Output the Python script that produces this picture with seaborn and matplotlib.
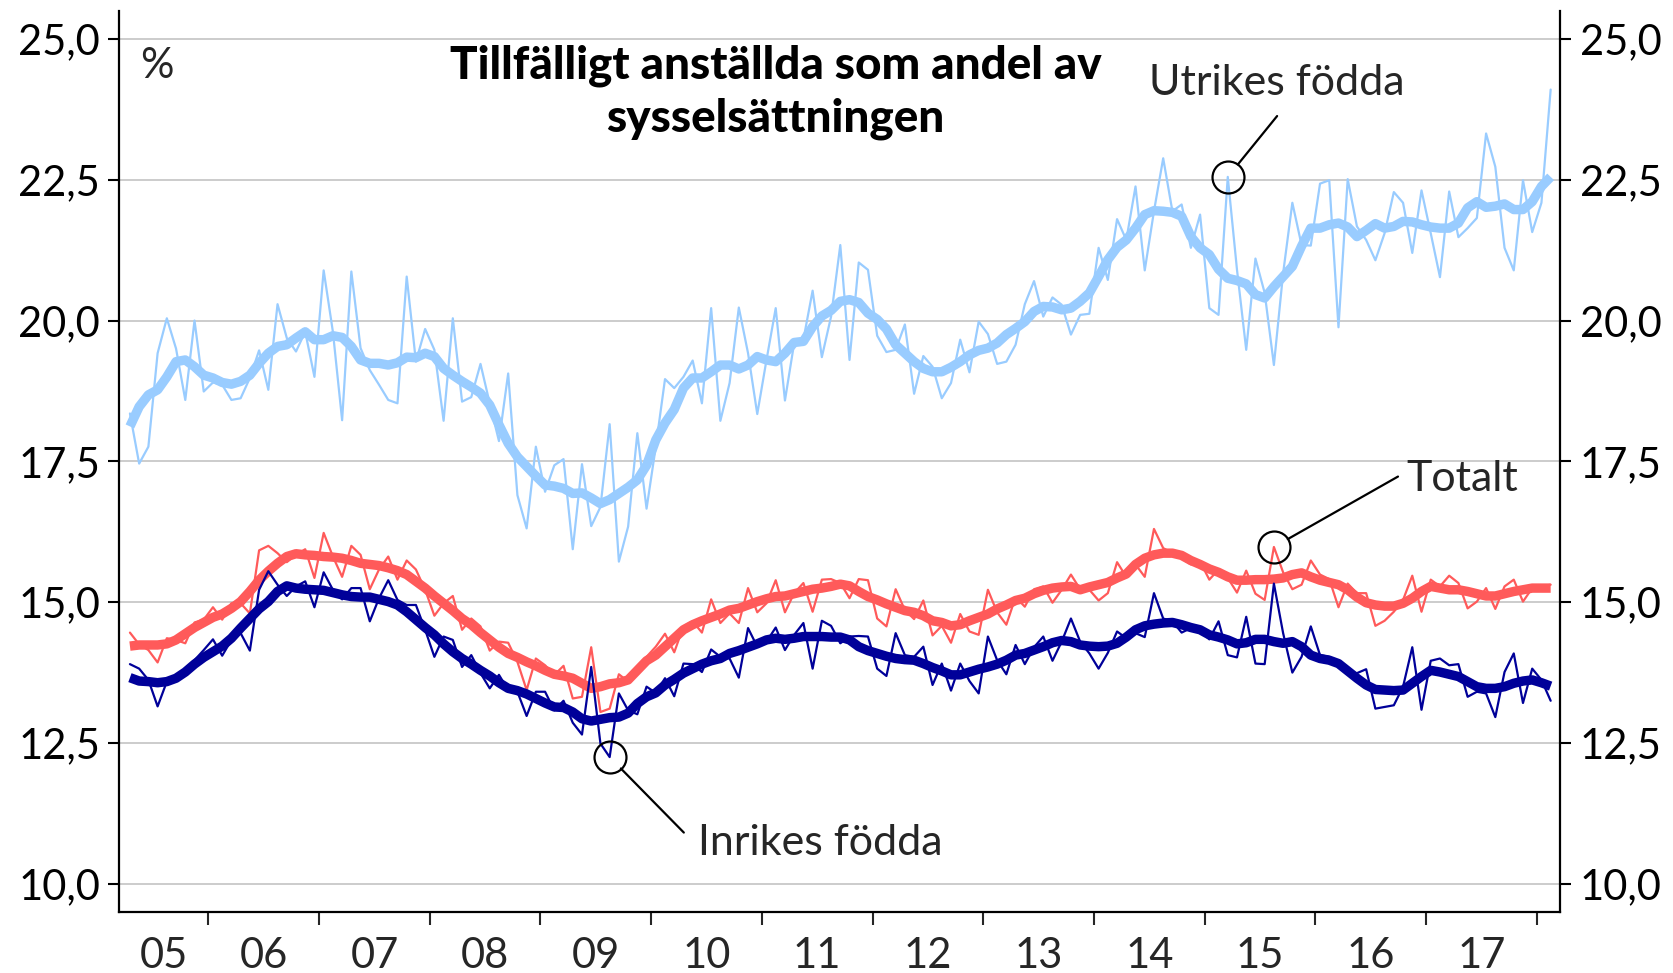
import numpy as np
import pandas as pd
import matplotlib
matplotlib.use("Agg")
import matplotlib.pyplot as plt
import seaborn as sns
from matplotlib.ticker import FuncFormatter, FixedLocator

# monthly observations, April 2005 - February 2018
months = pd.date_range("2005-04-01", periods=155, freq="MS")

utrikes = [
    18.35, 17.46, 17.76, 19.42, 20.04, 19.5, 18.59, 20.0, 18.74, 18.90,
    18.86, 18.59, 18.62, 18.98, 19.47, 18.77, 20.29, 19.69, 19.45, 19.8,
    19.0, 20.89, 19.8, 18.23, 20.87, 19.51, 19.12, 18.86, 18.59, 18.53,
    20.78, 19.27, 19.85, 19.48, 18.22, 20.04, 18.56, 18.64, 19.23, 18.53,
    17.86, 19.06, 16.90, 16.31, 17.76, 16.96, 17.43, 17.54, 15.94, 17.45,
    16.35, 16.69, 18.16, 15.72, 16.34, 18.0, 16.66, 17.76, 18.96, 18.8,
    19.0, 19.29, 18.53, 20.22, 18.22, 18.89, 20.23, 19.42, 18.34, 19.30,
    20.22, 18.58, 19.60, 19.66, 20.53, 19.35, 20.07, 21.34, 19.30, 21.03,
    20.90, 19.73, 19.44, 19.48, 19.93, 18.70, 19.37, 19.18, 18.62, 18.89,
    19.66, 19.08, 19.98, 19.76, 19.23, 19.27, 19.57, 20.29, 20.70, 20.07,
    20.41, 20.28, 19.75, 20.10, 20.12, 21.29, 20.72, 21.80, 21.43, 22.38,
    20.89, 21.94, 22.88, 21.94, 22.06, 21.29, 21.88, 20.22, 20.10, 22.55,
    20.90, 19.48, 21.10, 20.49, 19.21, 20.84, 22.09, 21.34, 21.33, 22.43,
    22.49, 19.88, 22.51, 21.67, 21.43, 21.07, 21.55, 22.28, 22.09, 21.20,
    22.31, 21.55, 20.77, 22.29, 21.48, 21.64, 21.82, 23.32, 22.73, 21.29,
    20.89, 22.49, 21.57, 22.09, 24.10,
]
utrikes_trend = [
    18.12, 18.47, 18.68, 18.77, 19.0, 19.27, 19.30, 19.18, 19.03, 18.98,
    18.90, 18.87, 18.92, 19.03, 19.24, 19.42, 19.54, 19.57, 19.69, 19.80,
    19.66, 19.66, 19.73, 19.70, 19.54, 19.30, 19.24, 19.24, 19.21, 19.25,
    19.35, 19.34, 19.42, 19.36, 19.15, 19.03, 18.92, 18.82, 18.71, 18.50,
    18.15, 17.82, 17.58, 17.41, 17.24, 17.08, 17.06, 17.02, 16.93, 16.94,
    16.85, 16.75, 16.82, 16.93, 17.04, 17.17, 17.43, 17.88, 18.18, 18.42,
    18.80, 18.98, 18.98, 19.09, 19.21, 19.21, 19.14, 19.21, 19.36, 19.30,
    19.27, 19.42, 19.61, 19.63, 19.89, 20.08, 20.18, 20.34, 20.37, 20.32,
    20.13, 20.02, 19.85, 19.57, 19.42, 19.27, 19.15, 19.09, 19.09, 19.17,
    19.27, 19.39, 19.47, 19.51, 19.60, 19.75, 19.86, 19.98, 20.16, 20.25,
    20.24, 20.19, 20.22, 20.34, 20.49, 20.78, 21.08, 21.30, 21.43, 21.64,
    21.88, 21.95, 21.94, 21.92, 21.85, 21.49, 21.29, 21.17, 20.91, 20.75,
    20.71, 20.65, 20.46, 20.40, 20.60, 20.78, 20.96, 21.32, 21.64, 21.64,
    21.70, 21.73, 21.66, 21.49, 21.60, 21.72, 21.64, 21.67, 21.76, 21.75,
    21.70, 21.66, 21.64, 21.64, 21.73, 22.00, 22.11, 22.01, 22.03, 22.07,
    21.97, 21.97, 22.11, 22.38, 22.55,
]
totalt = [
    14.46, 14.25, 14.15, 13.93, 14.36, 14.33, 14.27, 14.64, 14.69, 14.91,
    14.69, 14.98, 14.98, 14.80, 15.92, 16.0, 15.87, 15.71, 15.84, 15.94,
    15.43, 16.23, 15.81, 15.45, 16.0, 15.84, 15.23, 15.58, 15.81, 15.40,
    15.74, 15.58, 15.22, 14.76, 14.98, 15.11, 14.51, 14.71, 14.57, 14.14,
    14.30, 14.28, 13.94, 13.44, 14.0, 13.88, 13.71, 13.87, 13.29, 13.32,
    14.20, 13.05, 13.11, 13.72, 13.59, 13.85, 14.03, 14.21, 14.44, 14.11,
    14.57, 14.66, 14.46, 15.05, 14.63, 14.80, 14.63, 15.25, 14.82, 14.98,
    15.39, 14.82, 15.16, 15.34, 14.83, 15.40, 15.41, 15.34, 15.07, 15.41,
    15.39, 14.71, 14.57, 15.23, 14.86, 14.70, 15.03, 14.41, 14.58, 14.28,
    14.79, 14.48, 14.42, 15.22, 14.82, 14.60, 15.09, 14.92, 15.23, 15.28,
    14.99, 15.22, 15.49, 15.23, 15.22, 15.03, 15.16, 15.71, 15.45, 15.67,
    15.45, 16.30, 15.96, 15.87, 15.78, 15.67, 15.72, 15.40, 15.58, 15.43,
    15.17, 15.56, 15.15, 15.04, 15.98, 15.53, 15.23, 15.31, 15.74, 15.49,
    15.41, 14.91, 15.33, 15.16, 15.16, 14.58, 14.67, 14.83, 15.04, 15.47,
    14.83, 15.40, 15.28, 15.47, 15.34, 14.89, 15.01, 15.25, 14.88, 15.28,
    15.40, 15.01, 15.25, 15.28, 15.31,
]
totalt_trend = [
    14.22, 14.24, 14.24, 14.24, 14.26, 14.33, 14.44, 14.55, 14.64, 14.73,
    14.79, 14.89, 15.01, 15.19, 15.39, 15.55, 15.69, 15.81, 15.86, 15.84,
    15.83, 15.81, 15.80, 15.78, 15.74, 15.69, 15.67, 15.65, 15.61, 15.56,
    15.49, 15.37, 15.25, 15.11, 14.98, 14.85, 14.71, 14.60, 14.46, 14.33,
    14.20, 14.09, 14.02, 13.94, 13.87, 13.79, 13.72, 13.69, 13.65, 13.56,
    13.47, 13.50, 13.55, 13.57, 13.62, 13.79, 13.96, 14.06, 14.21, 14.36,
    14.51, 14.60, 14.67, 14.73, 14.79, 14.86, 14.89, 14.95, 15.01, 15.06,
    15.10, 15.11, 15.15, 15.19, 15.23, 15.25, 15.28, 15.32, 15.29, 15.19,
    15.10, 15.04, 14.97, 14.91, 14.85, 14.82, 14.76, 14.67, 14.64, 14.58,
    14.60, 14.67, 14.73, 14.79, 14.88, 14.95, 15.03, 15.07, 15.15, 15.21,
    15.25, 15.27, 15.28, 15.22, 15.27, 15.31, 15.35, 15.43, 15.50, 15.67,
    15.78, 15.84, 15.87, 15.87, 15.83, 15.74, 15.67, 15.59, 15.53, 15.45,
    15.39, 15.39, 15.40, 15.40, 15.41, 15.43, 15.49, 15.52, 15.45, 15.39,
    15.35, 15.31, 15.22, 15.09, 14.99, 14.95, 14.93, 14.93, 14.98, 15.07,
    15.19, 15.28, 15.25, 15.22, 15.22, 15.19, 15.15, 15.11, 15.11, 15.15,
    15.19, 15.22, 15.25, 15.25, 15.25,
]
inrikes = [
    13.90, 13.82, 13.62, 13.15, 13.59, 13.62, 13.76, 13.97, 14.15, 14.34,
    14.05, 14.33, 14.45, 14.14, 15.22, 15.55, 15.31, 15.11, 15.28, 15.37,
    14.91, 15.53, 15.22, 15.05, 15.25, 15.25, 14.66, 15.07, 15.39, 15.04,
    14.95, 14.95, 14.51, 14.03, 14.39, 14.33, 13.85, 14.06, 13.74, 13.47,
    13.71, 13.44, 13.41, 12.98, 13.41, 13.41, 13.08, 13.25, 12.86, 12.65,
    13.85, 12.49, 12.25, 13.38, 13.08, 13.01, 13.50, 13.39, 13.65, 13.33,
    13.91, 13.90, 13.76, 14.16, 14.03, 14.00, 13.66, 14.54, 14.21, 14.30,
    14.55, 14.15, 14.42, 14.63, 13.82, 14.67, 14.58, 14.27, 14.39, 14.40,
    14.39, 13.82, 13.69, 14.45, 14.06, 14.03, 14.21, 13.53, 13.91, 13.43,
    13.91, 13.60, 13.38, 14.39, 13.97, 13.72, 14.24, 13.90, 14.20, 14.39,
    13.96, 14.30, 14.71, 14.30, 14.09, 13.82, 14.10, 14.48, 14.36, 14.45,
    14.38, 15.16, 14.71, 14.66, 14.46, 14.54, 14.50, 14.34, 14.66, 14.06,
    14.02, 14.74, 13.91, 13.90, 15.33, 14.45, 13.75, 14.03, 14.57, 14.06,
    14.03, 13.91, 13.76, 13.74, 13.81, 13.11, 13.14, 13.17, 13.50, 14.20,
    13.09, 13.96, 14.00, 13.88, 13.90, 13.32, 13.41, 13.38, 12.96, 13.76,
    14.09, 13.21, 13.82, 13.62, 13.25,
]
inrikes_trend = [
    13.66, 13.60, 13.59, 13.57, 13.59, 13.65, 13.76, 13.90, 14.02, 14.12,
    14.22, 14.36, 14.54, 14.71, 14.88, 15.01, 15.19, 15.29, 15.25, 15.23,
    15.22, 15.21, 15.17, 15.13, 15.10, 15.09, 15.09, 15.05, 15.01, 14.95,
    14.83, 14.69, 14.55, 14.42, 14.26, 14.12, 14.00, 13.90, 13.79, 13.69,
    13.57, 13.47, 13.43, 13.37, 13.29, 13.21, 13.14, 13.13, 13.05, 12.93,
    12.89, 12.92, 12.95, 12.96, 13.03, 13.20, 13.32, 13.39, 13.53, 13.63,
    13.74, 13.82, 13.90, 13.96, 14.00, 14.09, 14.14, 14.20, 14.26, 14.33,
    14.36, 14.34, 14.36, 14.39, 14.39, 14.39, 14.38, 14.38, 14.33, 14.21,
    14.14, 14.09, 14.04, 14.00, 13.98, 13.97, 13.91, 13.84, 13.78, 13.71,
    13.71, 13.76, 13.81, 13.85, 13.90, 13.97, 14.06, 14.09, 14.15, 14.21,
    14.28, 14.32, 14.30, 14.24, 14.22, 14.21, 14.22, 14.27, 14.38, 14.51,
    14.58, 14.61, 14.63, 14.64, 14.60, 14.55, 14.51, 14.42, 14.38, 14.33,
    14.26, 14.28, 14.34, 14.34, 14.30, 14.27, 14.30, 14.21, 14.06, 14.00,
    13.97, 13.91, 13.78, 13.65, 13.53, 13.45, 13.44, 13.43, 13.44, 13.56,
    13.68, 13.79, 13.76, 13.72, 13.68, 13.59, 13.50, 13.47, 13.47, 13.50,
    13.56, 13.60, 13.62, 13.57, 13.51,
]

year_labels = ["05", "06", "07", "08", "09", "10", "11", "12", "13", "14", "15", "16", "17"]
y_ticks = [10.0, 12.5, 15.0, 17.5, 20.0, 22.5, 25.0]

LIGHT = "#99ccff"
RED = "#ff5a5a"
NAVY = "#000099"

sns.set_style("white")
plt.rcParams["font.family"] = ["Lato", "DejaVu Sans"]

# decimal year, points placed mid-month
t = months.year + (months.month - 0.5) / 12

fig = plt.figure(figsize=(16.73, 9.73), dpi=100)
ax = fig.add_axes([0.0714, 0.0627, 0.9325 - 0.0714, 0.989 - 0.0627])

for raw, trend, col in [(utrikes, utrikes_trend, LIGHT),
                        (totalt, totalt_trend, RED),
                        (inrikes, inrikes_trend, NAVY)]:
    sns.lineplot(x=t, y=raw, ax=ax, color=col, linewidth=1.6)
    sns.lineplot(x=t, y=trend, ax=ax, color=col, linewidth=6.8,
                 solid_capstyle="butt")

ax.set_xlim(2005.197, 2018.21)
ax.set_ylim(9.5, 25.5)

# y axis on both sides
ax.yaxis.set_major_locator(FixedLocator(y_ticks))
ax.yaxis.set_major_formatter(FuncFormatter(lambda v, p: f"{v:.1f}".replace(".", ",")))
ax.tick_params(axis="y", which="major", left=True, right=True, labelleft=True,
               labelright=True, direction="out", length=8, width=1.5,
               labelsize=30, pad=6, colors="black")
ax.grid(axis="y", color="#c8c8c8", linewidth=1.3)
ax.grid(axis="x", visible=False)

# year boundaries as ticks, labels centred in each year
ax.xaxis.set_major_locator(FixedLocator(list(range(2006, 2019))))
ax.xaxis.set_major_formatter(FuncFormatter(lambda v, p: ""))
ax.xaxis.set_minor_locator(FixedLocator([2005.6] + [y + 0.5 for y in range(2006, 2018)]))
ax.set_xticklabels(year_labels, minor=True)
ax.tick_params(axis="x", which="major", bottom=True, direction="out", length=9, width=1.5)
ax.tick_params(axis="x", which="minor", bottom=True, length=0, labelsize=30, pad=18)

for side in ["left", "right", "bottom"]:
    ax.spines[side].set_color("black")
    ax.spines[side].set_linewidth(1.6)
ax.spines["top"].set_visible(False)
ax.set_xlabel("")
ax.set_ylabel("")

# texts
ax.text(2005.386, 24.30, "%", fontsize=30, ha="left", va="baseline")
ax.text(2011.125, 24.30, "Tillfälligt anställda som andel av", fontsize=33,
        fontweight="black", ha="center", va="baseline", color="black")
ax.text(2011.125, 23.36, "sysselsättningen", fontsize=33,
        fontweight="black", ha="center", va="baseline", color="black")

# callouts: circle on a data point, line to the label
callouts = [
    (utrikes, 119, (2015.654, 23.63), (2014.50, 24.0), "Utrikes födda"),
    (totalt, 124, (2016.746, 17.23), (2016.82, 16.98), "Totalt"),
    (inrikes, 52, (2010.295, 10.91), (2010.42, 10.51), "Inrikes födda"),
]
for series, i, line_end, txt_pos, label in callouts:
    ax.plot([t[i]], [series[i]], marker="o", markersize=23, markerfacecolor="none",
            markeredgecolor="black", markeredgewidth=1.6, zorder=5)
    ax.annotate("", xy=(t[i], series[i]), xytext=line_end,
                arrowprops=dict(arrowstyle="-", color="black", lw=1.6,
                                shrinkA=0, shrinkB=11.5))
    ax.text(txt_pos[0], txt_pos[1], label, fontsize=31, ha="left", va="baseline")

fig.savefig("out.png", dpi=100)
